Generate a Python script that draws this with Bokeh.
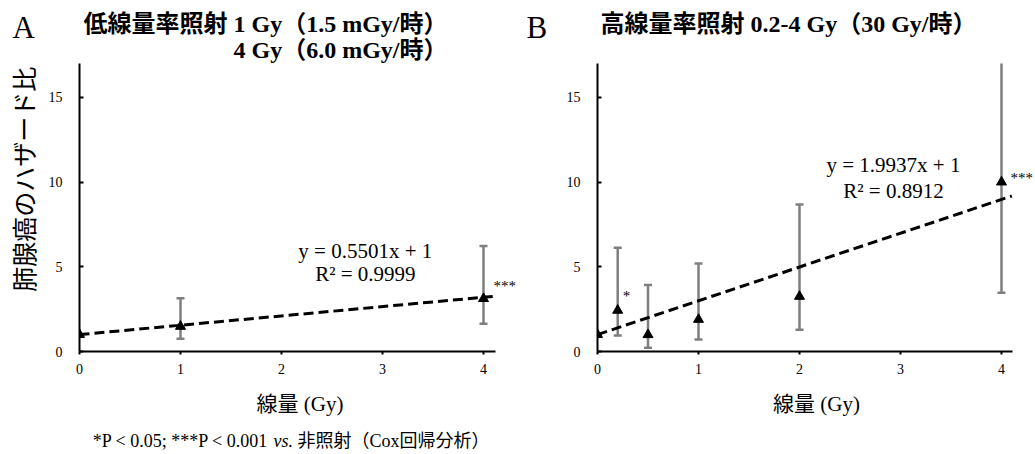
import math
from bokeh.plotting import figure
from bokeh.layouts import row, column
from bokeh.models import Label, Range1d, FixedTicker, ColumnDataSource
from bokeh.embed import file_html
from bokeh.resources import INLINE

# ---- data ----
dose_a = [0, 1, 4]
hr_a = [1.0, 1.48, 3.12]
lo_a = [1.0, 0.75, 1.64]
hi_a = [1.0, 3.15, 6.23]
slope_a, icpt_a = 0.5501, 1.0
eq_a = ["y = 0.5501x + 1", "R² = 0.9999"]

dose_b = [0, 0.2, 0.5, 1, 2, 4]
hr_b = [1.0, 2.43, 0.99, 1.89, 3.25, 10.0]
lo_b = [1.0, 0.95, 0.22, 0.71, 1.28, 3.47]
hi_b = [1.0, 6.13, 3.92, 5.2, 8.68, 18.0]
slope_b, icpt_b = 1.9937, 1.0
eq_b = ["y = 1.9937x + 1", "R² = 0.8912"]

x_ticks = [0, 1, 2, 3, 4]
y_ticks = [0, 5, 10, 15]

title_a1 = "低線量率照射 1 Gy（1.5 mGy/時）"
title_a2 = "4 Gy（6.0 mGy/時）"
title_b = "高線量率照射 0.2-4 Gy（30 Gy/時）"
x_label = "線量 (Gy)"
y_label = "肺腺癌のハザード比"
foot = ["*P < 0.05; ***P < 0.001", "vs.", "非照射（Cox回帰分析）"]

SERIF = "Liberation Serif, Noto Sans CJK JP"
CJK = "Noto Sans CJK JP"
GRAY = "#7f7f7f"
TOP_H = 63
MAIN_H = 358
YLAB_W = 40


def panel(width, left, dose, hr, lo, hi, slope, icpt, xaxis_max):
    frame_w = width - left
    xmax_view = frame_w / 101.0
    p = figure(width=width, height=MAIN_H, output_backend="svg", toolbar_location=None,
               x_range=Range1d(0, xmax_view), y_range=Range1d(0, 17),
               min_border_left=left, min_border_right=0,
               min_border_top=0, min_border_bottom=MAIN_H - 288)
    p.outline_line_color = None
    p.grid.visible = False
    p.background_fill_color = "white"
    p.border_fill_color = "white"

    for ax in (p.xaxis[0], p.yaxis[0]):
        ax.axis_line_width = 2
        ax.axis_line_color = "black"
        ax.major_tick_line_color = "black"
        ax.major_tick_line_width = 2
        ax.minor_tick_line_color = None
        ax.major_label_text_font = "Liberation Serif"
        ax.major_label_text_font_size = "14px"
        ax.major_label_text_color = "black"
        ax.axis_label_text_font_style = "normal"
        ax.axis_label_text_color = "black"
    p.xaxis.ticker = FixedTicker(ticks=x_ticks)
    p.yaxis.ticker = FixedTicker(ticks=y_ticks)
    p.xaxis.bounds = (0, xaxis_max)
    p.yaxis.bounds = (0, 17)
    p.xaxis.major_tick_in = 0
    p.xaxis.major_tick_out = 3
    p.yaxis.major_tick_in = 4
    p.yaxis.major_tick_out = 0
    p.yaxis.major_label_standoff = 17
    p.xaxis.major_label_standoff = 9
    p.xaxis.axis_label = x_label
    p.xaxis.axis_label_text_font = SERIF
    p.xaxis.axis_label_text_font_size = "21px"
    p.xaxis.axis_label_standoff = 15

    src = ColumnDataSource(dict(x=dose, y=hr, lo=lo, hi=hi))
    p.segment(x0="x", y0="lo", x1="x", y1="hi", source=src, line_color=GRAY, line_width=2.5)
    p.scatter(x="x", y="lo", source=src, marker="dash", size=8, line_color=GRAY, line_width=2.5)
    p.scatter(x="x", y="hi", source=src, marker="dash", size=8, line_color=GRAY, line_width=2.5)
    tx = [0, xaxis_max * 0.998]
    p.line(x=tx, y=[icpt + slope * v for v in tx], line_color="black", line_width=3,
           line_dash="10 5")
    p.scatter(x="x", y="y", source=src, marker="triangle", size=10,
              fill_color="black", line_color="black")
    return p


def lab(p, text, x, y, size, font=SERIF, align="center", base="middle", style="normal",
        angle=0.0):
    p.add_layout(Label(x=x, y=y, text=text, angle=angle,
                       text_font=font, text_font_size=size, text_align=align,
                       text_baseline=base, text_font_style=style, text_color="black"))


def strip(width, height):
    s = figure(width=width, height=height, output_backend="svg", toolbar_location=None,
               x_range=Range1d(0, width), y_range=Range1d(height, 0),
               x_axis_type=None, y_axis_type=None, min_border=0)
    s.outline_line_color = None
    s.grid.visible = False
    s.background_fill_color = "white"
    s.border_fill_color = "white"
    return s


ylab = strip(YLAB_W, MAIN_H)
lab(ylab, y_label, 22, 207 - TOP_H, "25px", font=CJK, angle=math.pi / 2)

pa = panel(520 - YLAB_W, 79 - YLAB_W, dose_a, hr_a, lo_a, hi_a, slope_a, icpt_a, 4.12)
pb = panel(515, 77, dose_b, hr_b, lo_b, hi_b, slope_b, icpt_b, 4.11)

# equations
lab(pa, eq_a[0], 2.83, 5.96, "21px")
lab(pa, eq_a[1], 2.83, 4.59, "21px")
lab(pb, eq_b[0], 2.93, 10.98, "21px")
lab(pb, eq_b[1], 2.93, 9.5, "21px")

# significance marks
lab(pa, "***", 4.1, 3.84, "15px", align="left")
lab(pb, "***", 4.09, 10.27, "15px", align="left")
lab(pb, "*", 0.25, 3.3, "15px", align="left")

# title strip
top = strip(1035, TOP_H)
lab(top, "A", 12, 27, "31px", align="left")
lab(top, title_a1, 447, 23, "24px", align="right", style="bold")
lab(top, title_a2, 447, 49, "24px", align="right", style="bold")
lab(top, "B", 526, 27, "31px", align="left")
lab(top, title_b, 600, 23, "24px", align="left", style="bold")

# footnote strip
bot_h = 454 - TOP_H - MAIN_H
bot = strip(1035, bot_h)
lab(bot, foot[0], 268, 19, "18px", align="right")
lab(bot, foot[1], 273, 19, "18px", align="left", style="italic")
lab(bot, foot[2], 297, 19, "18px", align="left")

layout = column(top, row(ylab, pa, pb), bot)
open("out.html", "w").write(file_html(layout, INLINE))
